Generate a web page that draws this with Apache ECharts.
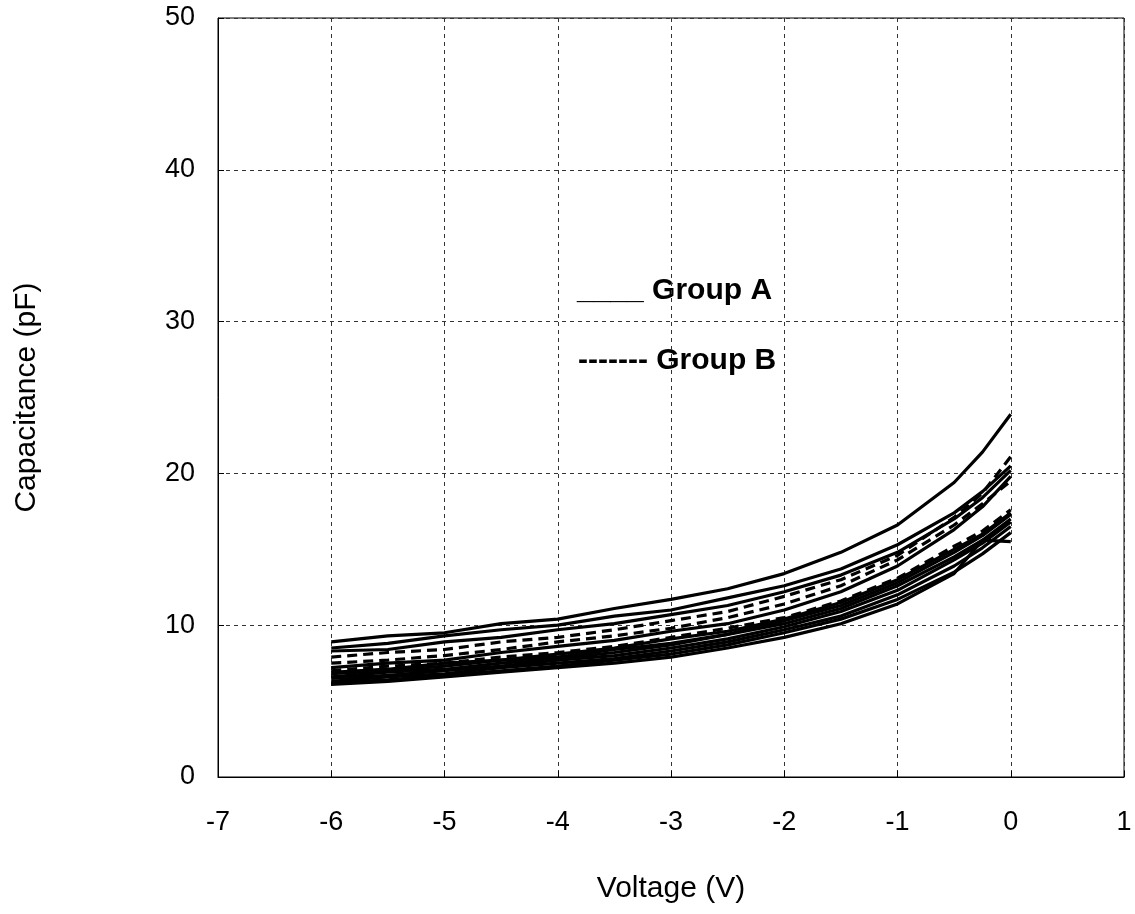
<!DOCTYPE html>
<html>
<head>
<meta charset="utf-8">
<script src="https://cdn.jsdelivr.net/npm/echarts@6/dist/echarts.min.js"></script>
<style>
  html, body { margin: 0; padding: 0; background: #fff; }
  #chart { width: 1135px; height: 914px; }
</style>
</head>
<body>
<div id="chart"></div>
<script>
// bias voltage points (V)
const voltage = [-6, -5.5, -5, -4.5, -4, -3.5, -3, -2.5, -2, -1.5, -1, -0.5, -0.25, 0];

// Group A (solid) capacitance curves, pF
const groupA = [
  [8.9, 9.3, 9.5, 10.1, 10.4, 11.1, 11.7, 12.4, 13.4, 14.8, 16.6, 19.4, 21.4, 23.9],
  [8.5, 8.8, 9.3, 9.7, 10.0, 10.6, 11.0, 11.8, 12.6, 13.7, 15.3, 17.4, 18.8, 20.5],
  [8.3, 8.4, 8.9, 9.2, 9.7, 10.1, 10.7, 11.3, 12.2, 13.3, 14.8, 17.0, 18.4, 20.2],
  [7.2, 7.5, 7.7, 8.2, 8.6, 9.0, 9.6, 10.1, 11.0, 12.2, 13.9, 16.3, 17.8, 19.8],
  [6.9, 7.1, 7.5, 7.7, 8.1, 8.5, 9.1, 9.6, 10.4, 11.5, 13.0, 15.0, 16.0, 17.4],
  [6.8, 7.0, 7.3, 7.7, 7.9, 8.4, 8.8, 9.4, 10.3, 11.3, 12.8, 14.8, 15.9, 17.3],
  [6.6, 6.9, 7.1, 7.5, 7.8, 8.2, 8.7, 9.4, 10.1, 11.1, 12.6, 14.5, 15.6, 17.0],
  [6.5, 6.7, 7.0, 7.3, 7.7, 8.0, 8.5, 9.1, 9.9, 10.9, 12.3, 14.3, 15.4, 16.8],
  [6.3, 6.6, 6.8, 7.2, 7.5, 7.8, 8.3, 8.9, 9.7, 10.6, 12.0, 13.9, 15.1, 16.5],
  [6.2, 6.4, 6.7, 7.0, 7.3, 7.7, 8.1, 8.7, 9.5, 10.4, 11.7, 13.5, 14.7, 16.1],
  [6.1, 6.3, 6.6, 6.9, 7.2, 7.5, 7.9, 8.5, 9.2, 10.1, 11.4, 13.4, 15.6, 15.5]
];

// Group B (dashed) capacitance curves, pF
const groupB = [
  [7.9, 8.2, 8.4, 8.9, 9.2, 9.7, 10.3, 10.9, 11.9, 13.0, 14.6, 17.1, 18.7, 21.1],
  [7.5, 7.7, 8.0, 8.4, 8.9, 9.3, 9.8, 10.5, 11.4, 12.6, 14.3, 16.6, 18.0, 19.5],
  [7.0, 7.3, 7.5, 7.9, 8.2, 8.6, 9.2, 9.8, 10.5, 11.6, 13.1, 15.2, 16.2, 17.6]
];

const xTicks = [-7, -6, -5, -4, -3, -2, -1, 0, 1];
const yTicks = [0, 10, 20, 30, 40, 50];

const chart = echarts.init(document.getElementById('chart'));

const font = '"Liberation Sans", Arial, sans-serif';

function makeSeries(rows, dashed) {
  return rows.map(vals => ({
    type: 'line',
    data: vals.map((c, i) => [voltage[i], c]),
    showSymbol: false,
    smooth: false,
    silent: true,
    lineStyle: {
      color: '#000',
      width: 3.2,
      type: dashed ? [10, 6] : 'solid'
    }
  }));
}

const option = {
  backgroundColor: '#fff',
  animation: false,
  grid: {
    left: 218,
    right: 11,
    top: 18,
    bottom: 137,
    show: true,
    borderColor: '#000',
    borderWidth: 1
  },
  xAxis: {
    type: 'value',
    min: xTicks[0],
    max: xTicks[xTicks.length - 1],
    interval: 1,
    name: 'Voltage (V)',
    nameLocation: 'middle',
    nameGap: 97,
    nameTextStyle: { color: '#000', fontSize: 30, fontFamily: font },
    axisLine: { show: true, onZero: false, lineStyle: { color: '#000', width: 1 } },
    axisTick: { show: true, inside: true, length: 6, lineStyle: { color: '#000' } },
    axisLabel: { color: '#000', fontSize: 27, fontFamily: font, margin: 32 },
    splitLine: { show: true, lineStyle: { color: '#333', width: 1, type: [4, 4] } }
  },
  yAxis: {
    type: 'value',
    min: yTicks[0],
    max: yTicks[yTicks.length - 1],
    interval: 10,
    name: 'Capacitance (pF)',
    nameLocation: 'middle',
    nameGap: 176,
    nameTextStyle: { color: '#000', fontSize: 30, fontFamily: font },
    axisLine: { show: true, onZero: false, lineStyle: { color: '#000', width: 1 } },
    axisTick: { show: true, inside: true, length: 6, lineStyle: { color: '#000' } },
    axisLabel: { color: '#000', fontSize: 27, fontFamily: font, margin: 23 },
    splitLine: { show: true, lineStyle: { color: '#333', width: 1, type: [4, 4] } }
  },
  graphic: [
    {
      type: 'text',
      left: 577,
      top: 276,
      style: { text: '____ Group A', fill: '#000', font: 'bold 30px ' + font }
    },
    {
      type: 'text',
      left: 578,
      top: 346,
      style: { text: '------- Group B', fill: '#000', font: 'bold 30px ' + font }
    }
  ],
  series: [...makeSeries(groupA, false), ...makeSeries(groupB, true)]
};

chart.setOption(option);
</script>
</body>
</html>
